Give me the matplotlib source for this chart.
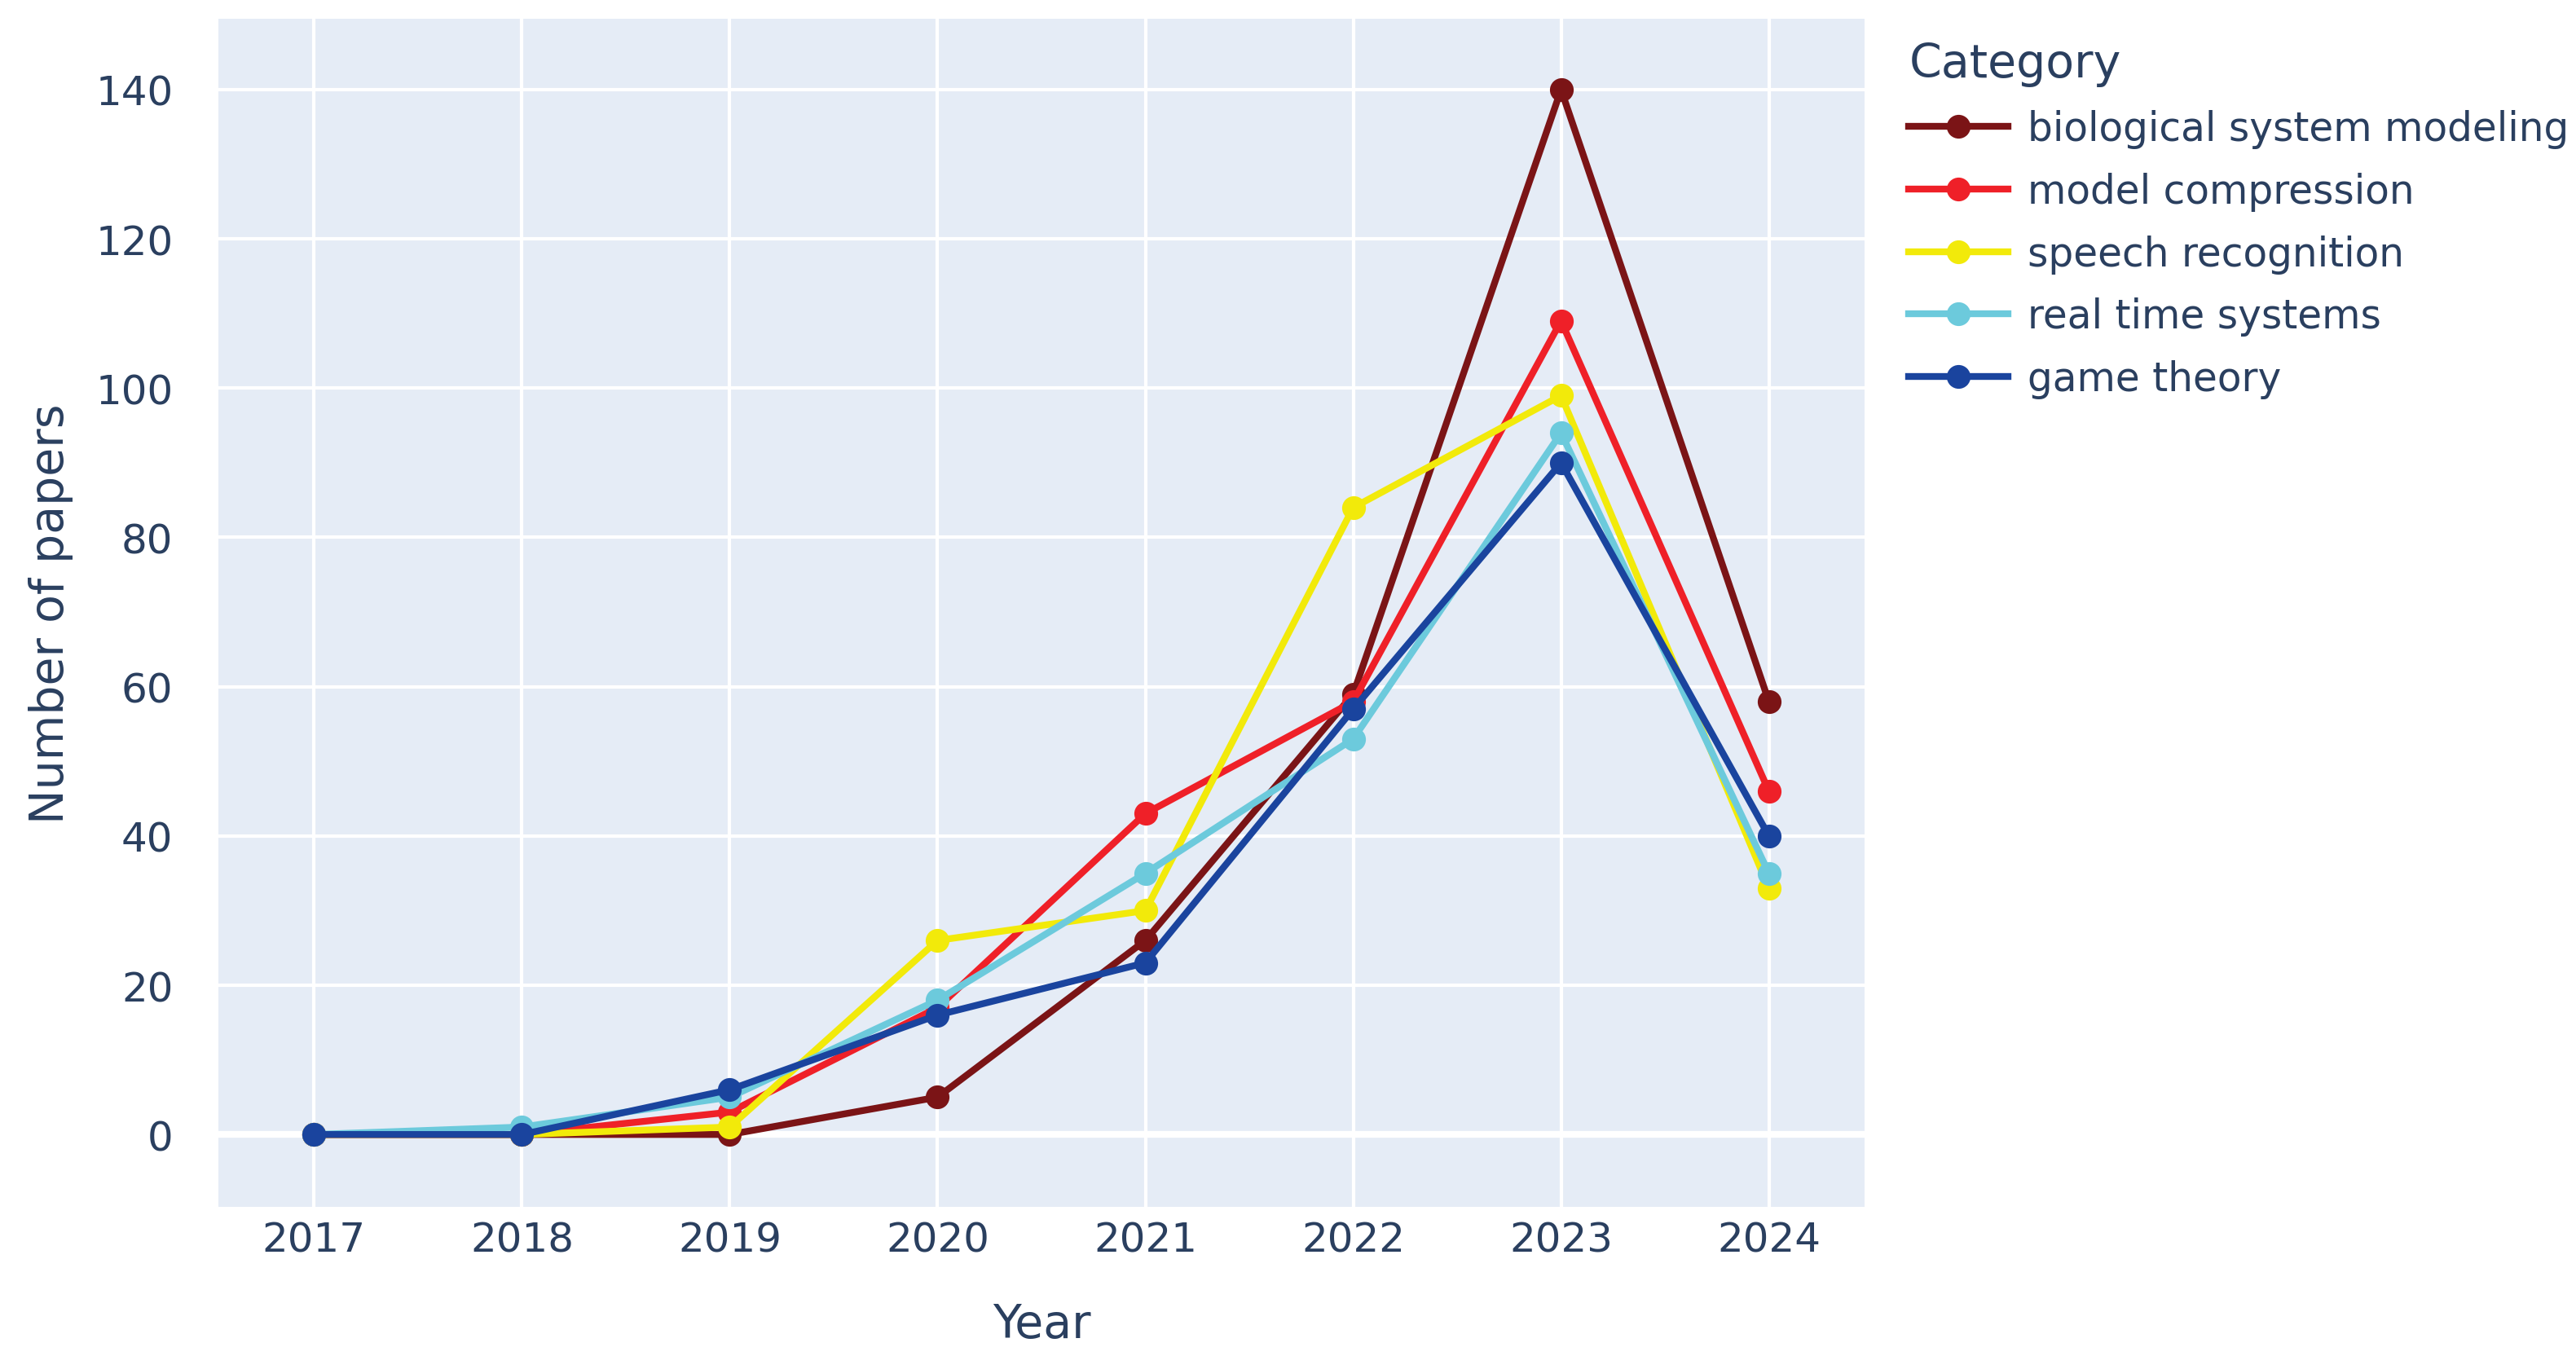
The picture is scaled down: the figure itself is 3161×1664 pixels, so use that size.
import matplotlib.pyplot as plt

# data
years = [2017, 2018, 2019, 2020, 2021, 2022, 2023, 2024]
categories = ["biological system modeling", "model compression", "speech recognition",
              "real time systems", "game theory"]
bio = [0, 0, 0, 5, 26, 59, 140, 58]
compression = [0, 0, 3, 17, 43, 58, 109, 46]
speech = [0, 0, 1, 26, 30, 84, 99, 33]
realtime = [0, 1, 5, 18, 35, 53, 94, 35]
game = [0, 0, 6, 16, 23, 57, 90, 40]
series = [bio, compression, speech, realtime, game]
colors = ["#7b1416", "#ef2028", "#f2ea0a", "#6ccadc", "#1a449e"]

TEXT = "#2a3f5f"
plt.rcParams["font.family"] = ["DejaVu Sans"]

fig = plt.figure(figsize=(3161 / 200, 1665 / 200), dpi=200)
ax = fig.add_axes([0.0848, 0.1099, 0.7238 - 0.0848, 0.9856 - 0.1099])
ax.set_facecolor("#e5ecf6")

for name, vals, c in zip(categories, series, colors):
    ax.plot(years, vals, color=c, lw=3.0, marker="o", ms=9.5, label=name, zorder=3)

ax.set_xlim(2017 - 0.46, 2024 + 0.46)
ax.set_ylim(-9.7, 149.5)
ax.set_xticks(years)
ax.set_yticks(range(0, 141, 20))
ax.grid(True, color="white", lw=1.5)
ax.set_axisbelow(True)
ax.axhline(0, color="white", lw=3, zorder=1)
for s in ax.spines.values():
    s.set_visible(False)
ax.tick_params(length=0, labelsize=18, colors=TEXT)
ax.tick_params(axis="y", pad=20)
ax.tick_params(axis="x", pad=6)

ax.set_xlabel("Year", fontsize=20.5, color=TEXT, va="center")
ax.set_ylabel("Number of papers", fontsize=20.5, color=TEXT, va="center")
ax.xaxis.set_label_coords(0.5, -0.099)
ax.yaxis.set_label_coords(-0.102, 0.5)

leg = ax.legend(title="Category", loc="upper left", bbox_to_anchor=(1.027, 0.981),
                frameon=False, fontsize=17.5, title_fontsize=20.5, handlelength=2.5,
                labelspacing=0.59, borderaxespad=0, borderpad=0, handletextpad=0.5)
leg._legend_box.align = "left"
for t in leg.get_texts():
    t.set_color(TEXT)
leg.get_title().set_color(TEXT)

fig.savefig("out.png", dpi=200, facecolor="white")
